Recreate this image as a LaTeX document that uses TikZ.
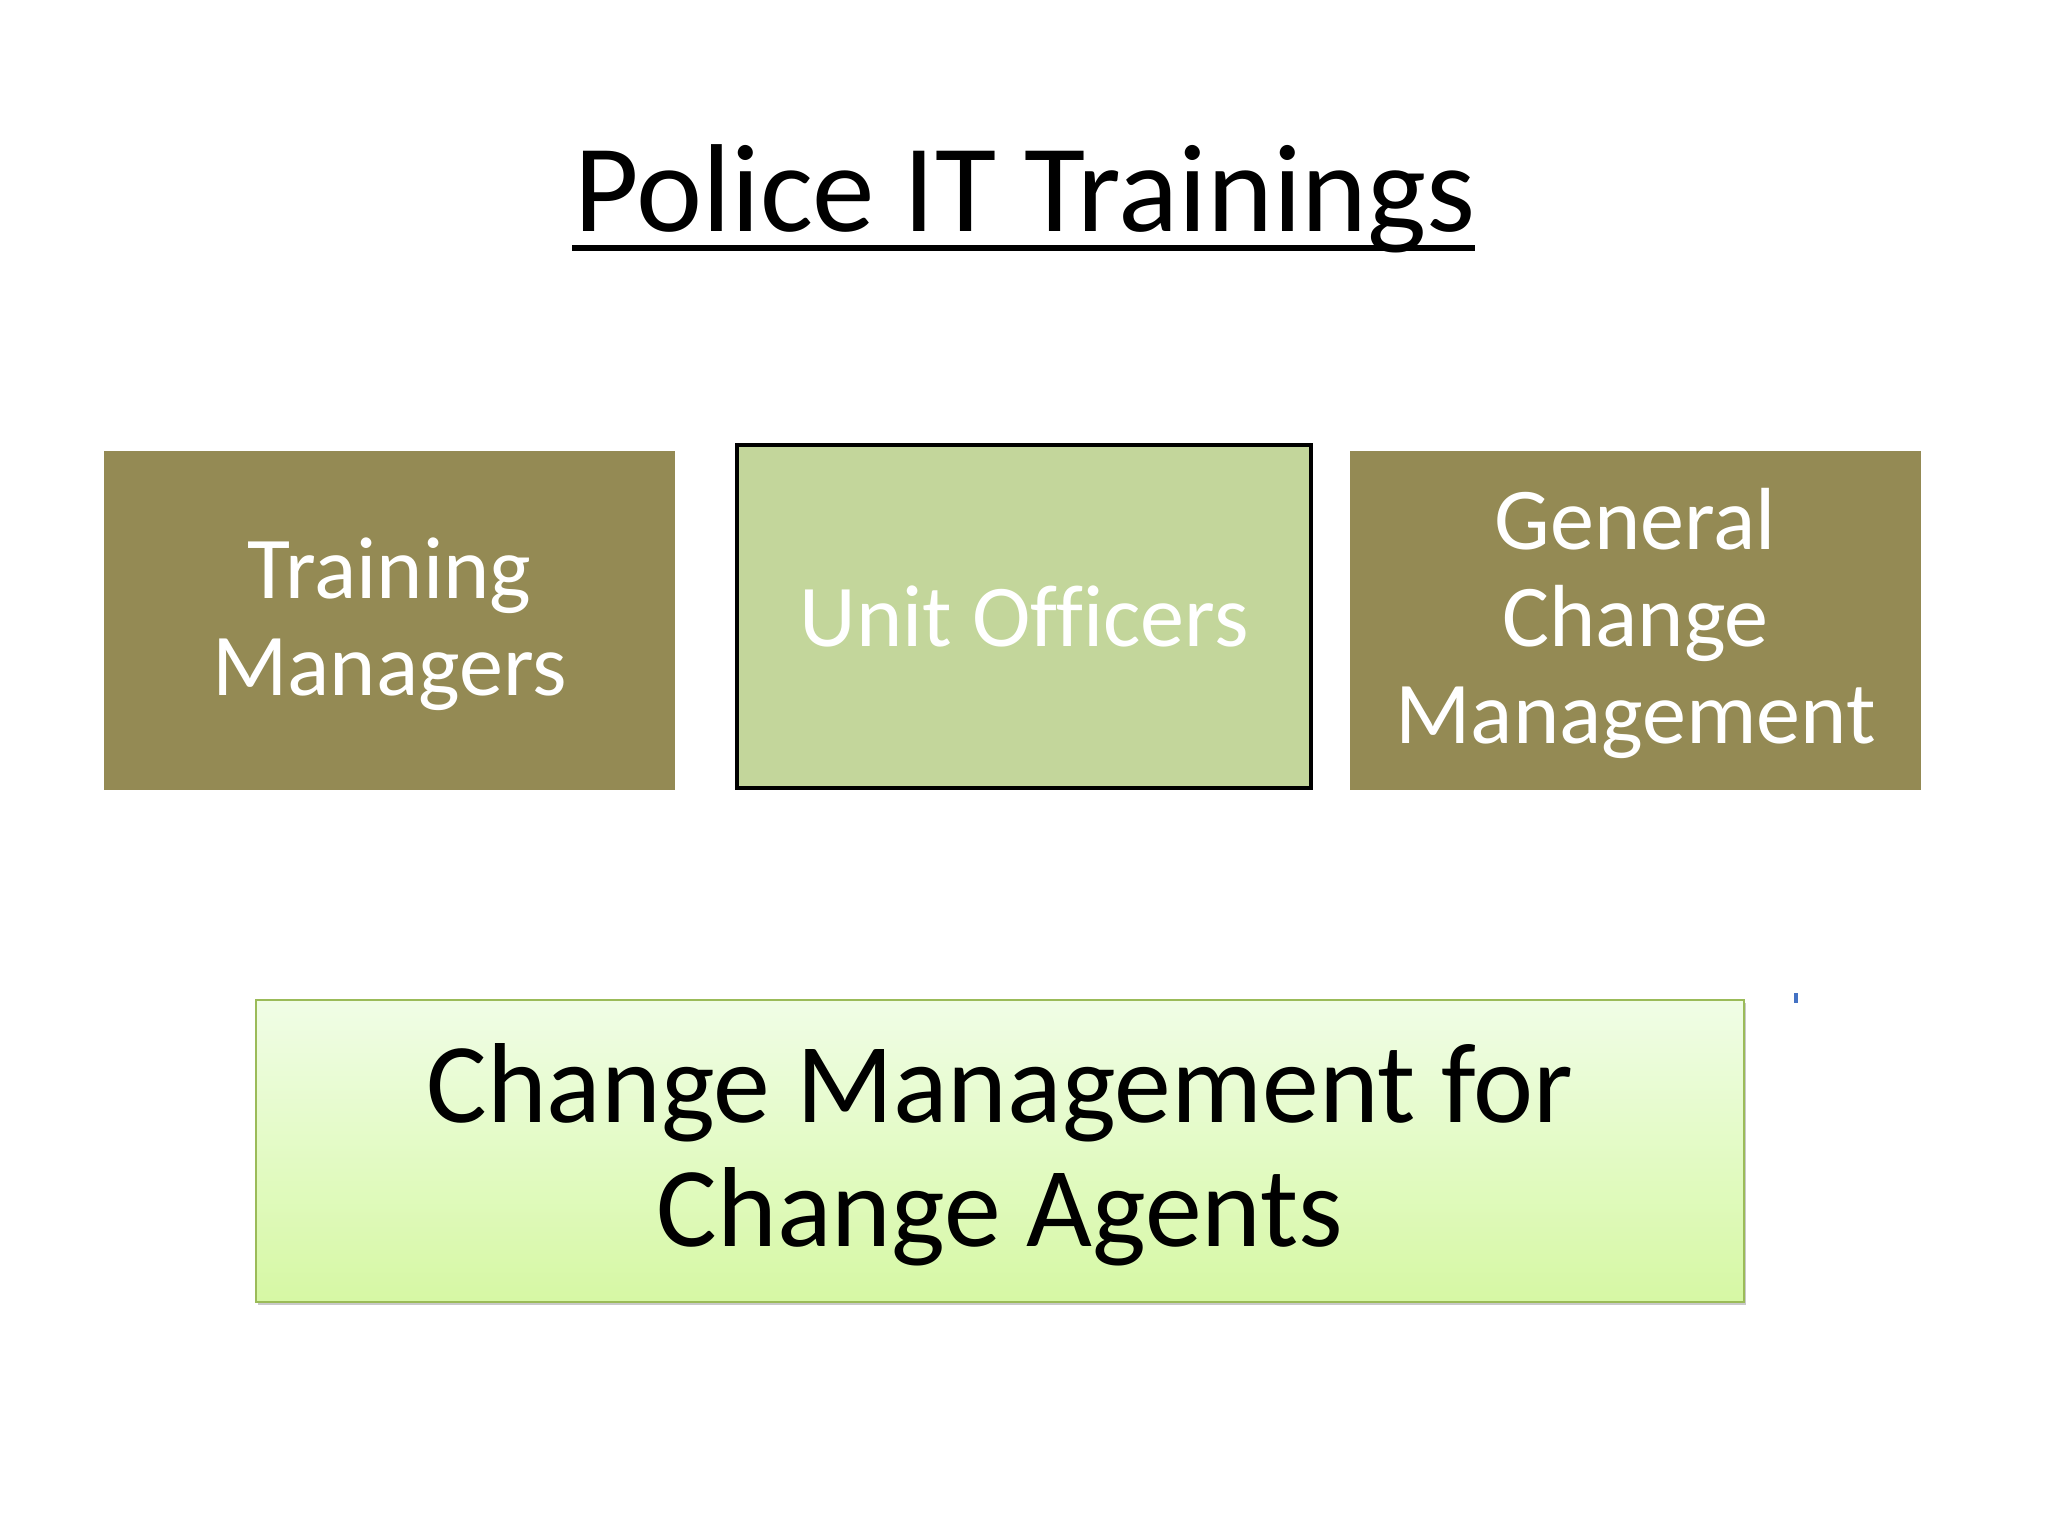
\documentclass[tikz,border=0pt]{standalone}
\usepackage{fontspec}
\setmainfont[Ligatures=NoCommon]{Carlito}
\usetikzlibrary{shadows}
\definecolor{olivebox}{HTML}{948A54}
\definecolor{lightolive}{HTML}{C3D69B}
\definecolor{gborder}{HTML}{9BBB59}
\definecolor{gtop}{HTML}{F0FDE6}
\definecolor{gbot}{HTML}{D6F8A4}
\definecolor{bluemark}{HTML}{4472C4}
\tikzset{
  darkbox/.style={rectangle, fill=olivebox, draw=none, text=white, align=center,
    minimum width=200.7pt, minimum height=119.2pt, inner sep=0pt,
    font=\fontsize{31}{34.1}\selectfont},
  midbox/.style={rectangle, fill=lightolive, draw=black, line width=1.6pt, text=white, align=center,
    minimum width=201.8pt, minimum height=120.6pt, inner sep=0pt,
    font=\fontsize{31}{34.1}\selectfont},
  agentbox/.style={rectangle, top color=gtop, bottom color=gbot, draw=gborder, line width=0.8pt,
    minimum width=523.1pt, minimum height=106.2pt, inner sep=0pt,
    drop shadow={shadow xshift=0.8pt, shadow yshift=-1.1pt, opacity=0.35, fill=black!60}},
  boxtext/.style={align=center, inner sep=0pt, text=white, font=\fontsize{31}{34.1}\selectfont},
  agenttext/.style={align=center, inner sep=0pt, text=black, font=\fontsize{40}{43.6}\selectfont},
  titletext/.style={font=\fontsize{44}{48}\selectfont, inner sep=0pt, anchor=base}
}
\begin{document}
\begin{tikzpicture}[x=0.3515625pt,y=-0.3515625pt]
\useasboundingbox[fill=white] (0,0) rectangle (2048,1536);
% title
\node[titletext] (title) at (1025,232) {Police IT Trainings};
\draw[line width=2.2pt] (572,248) -- (1475,248);
% three boxes
\node[darkbox] (tm) at (389.5,620.5) {};
\node[boxtext] (tmtext) at ([yshift=-1.3pt]tm.center) {Training\\Managers};
\node[midbox] (uo) at (1024,616.5) {Unit Officers};
\node[darkbox] (gcm) at (1635.5,620.5) {};
\node[boxtext] (gcmtext) at ([yshift=-1.0pt]gcm.center) {General\\Change\\Management};
% bottom box
\node[agentbox] (ca) at (1000,1151) {};
\node[agenttext] (catext) at ([yshift=-1.4pt]ca.center) {Change Management for\\Change Agents};
% small blue mark
\fill[bluemark] (1794,993) rectangle (1798,1003);
\end{tikzpicture}
\end{document}
